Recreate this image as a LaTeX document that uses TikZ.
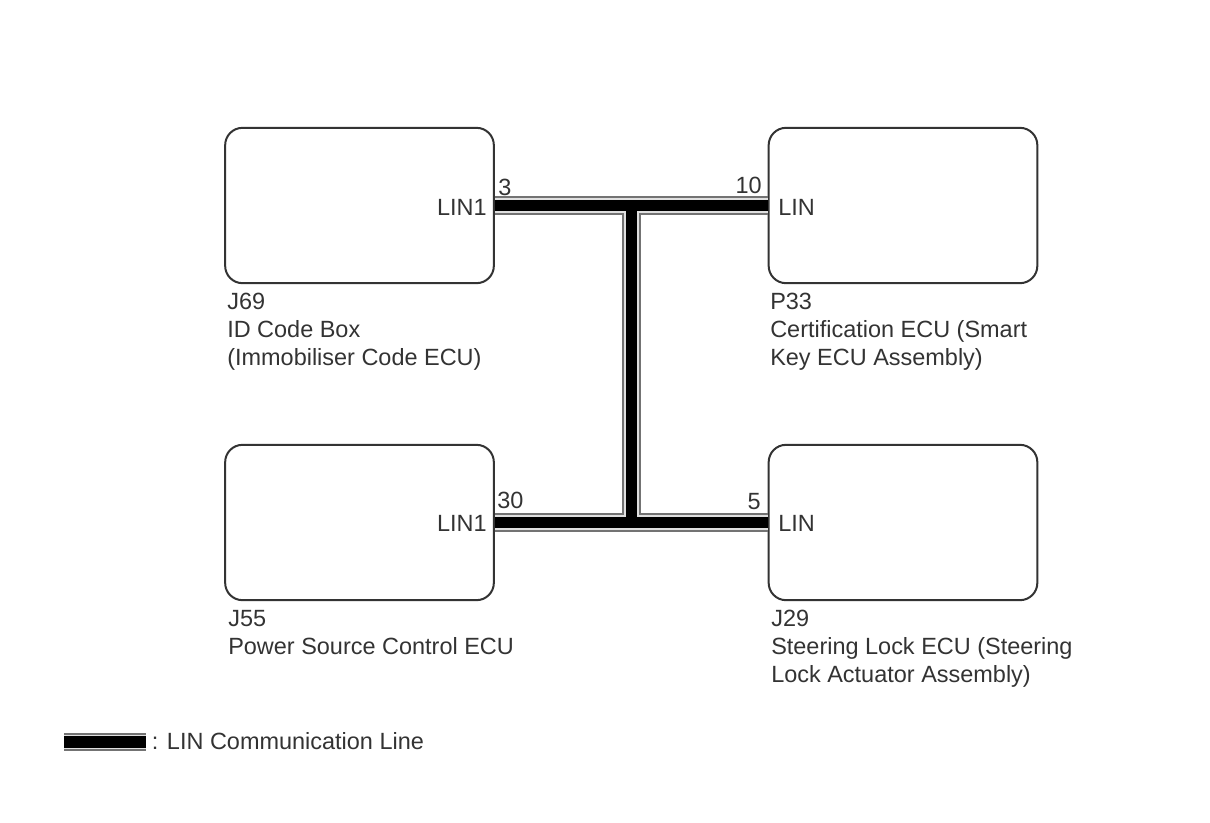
\documentclass[tikz,border=0pt]{standalone}
\usepackage{fontspec}
\setmainfont{Liberation Sans}
\tikzset{
  ecu/.style={draw=black!80, line width=1.5pt, rounded corners=13pt, minimum width=201.5pt, minimum height=116.5pt, inner sep=0pt},
  txt/.style={inner sep=0pt, text=black!80, font=\fontsize{17.6}{21}\selectfont, align=left},
  lingray/.style={draw=black!55, line width=14pt},
  linwhite/.style={draw=black!12, line width=11pt},
  linblack/.style={draw=black, line width=8.5pt}
}
\begin{document}
\begin{tikzpicture}[x=0.75pt, y=-0.75pt]
\useasboundingbox (0,0) rectangle (1210,822);
\node[ecu] (j69) at (359.5,205.5) {};
\node[ecu] (p33) at (903,205.5)   {};
\node[ecu] (j55) at (359.5,522.5) {};
\node[ecu] (j29) at (903,522.5)   {};
\coordinate (top) at (631.5,205.5);
\coordinate (bot) at (631.5,522.5);
\coordinate (keyl) at (64,742);
\coordinate (keyr) at (146,742);
% line layers
\foreach \s in {lingray,linwhite,linblack}
{
  \draw[\s] (j69.east) to (p33.west);
  \draw[\s] (j55.east) to (j29.west);
  \draw[\s] (top) to (bot);
  \draw[\s] (keyl) to (keyr);
}
\node[txt, anchor=east] (j69pin) at (487,207) {LIN1};
\node[txt, anchor=west] (p33pin) at (778,207) {LIN};
\node[txt, anchor=east] (j55pin) at (487,523) {LIN1};
\node[txt, anchor=west] (j29pin) at (778,523) {LIN};
\node[txt, anchor=west] (j69no) at (498,187) {3};
\node[txt, anchor=east] (p33no) at (762,185) {10};
\node[txt, anchor=west] (j55no) at (497,500) {30};
\node[txt, anchor=east] (j29no) at (761,502) {5};
\node[txt, anchor=north west] (j69txt) at (227,293) {J69\\ID Code Box\\(Immobiliser Code ECU)};
\node[txt, anchor=north west] (p33txt) at (770,293) {P33\\Certification ECU (Smart\\Key ECU Assembly)};
\node[txt, anchor=north west] (j55txt) at (228,610) {J55\\Power Source Control ECU};
\node[txt, anchor=north west] (j29txt) at (771,610) {J29\\Steering Lock ECU (Steering\\Lock Actuator Assembly)};
\node[txt, anchor=west] (keytxt) at (151.5,741) {: LIN Communication Line};
\end{tikzpicture}
\end{document}
